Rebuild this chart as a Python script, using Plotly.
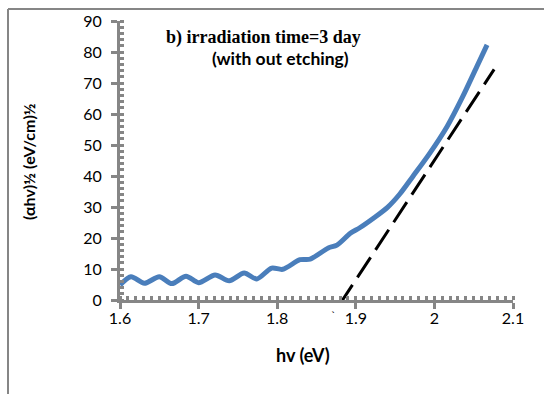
import plotly.graph_objects as go

# Measured curve: photon energy (eV) vs (alpha h nu)^1/2
hv = [1.600, 1.614, 1.631, 1.650, 1.666, 1.684, 1.700, 1.721, 1.739, 1.758,
      1.774, 1.793, 1.807, 1.829, 1.842, 1.865, 1.876, 1.893, 1.905, 1.922,
      1.940, 1.956, 1.973, 1.994, 2.016, 2.036, 2.054, 2.067]
ahv = [4.8, 7.5, 5.4, 7.5, 5.3, 7.7, 5.6, 8.1, 6.2, 8.7,
       6.8, 10.3, 9.9, 13.0, 13.2, 16.8, 17.7, 21.5, 23.3, 26.3,
       29.8, 34.2, 40.0, 47.3, 55.9, 65.6, 75.3, 82.3]

# Extrapolated linear fit (dashed)
fit_x = [1.879, 2.076]
fit_y = [-1.6, 74.4]

x_ticks = [1.6, 1.7, 1.8, 1.9, 2.0, 2.1]
x_ticklabels = ["1.6", "1.7", "1.8", "1.9", "2", "2.1"]
y_ticks = [0, 10, 20, 30, 40, 50, 60, 70, 80, 90]

title_line1 = "b) irradiation time=3 day"
title_line2 = "(with out etching)"
x_title = "hv (eV)"
y_title = "(αhv)½ (eV/cm)½"

AX = "#868686"
L, R, T, B = 120, 31, 21, 94
W, H = 544, 394
pw, ph = W - L - R, H - T - B


def px(xp):
    return (xp - L) / pw


def py(yp):
    return (H - B - yp) / ph


fig = go.Figure()
fig.add_trace(go.Scatter(x=hv, y=ahv, mode="lines",
                         line=dict(color="#4A7EBB", width=5, shape="spline", smoothing=0.8),
                         showlegend=False, hoverinfo="skip"))
fig.add_trace(go.Scatter(x=fit_x, y=fit_y, mode="lines",
                         line=dict(color="black", width=3, dash="24px,9px"),
                         showlegend=False, hoverinfo="skip"))

axis_common = dict(showline=True, linecolor=AX, linewidth=3, showgrid=False,
                   zeroline=False, ticks="outside", ticklen=6, tickwidth=3,
                   tickcolor=AX, tickfont=dict(family="Lato", size=16, color="black"))

fig.update_xaxes(range=[1.6, 2.1], tickvals=x_ticks, ticktext=x_ticklabels,
                 ticklabelstandoff=-4,
                 minor=dict(ticks="inside", dtick=0.01, ticklen=4, tickwidth=3, tickcolor=AX),
                 **axis_common)
fig.update_yaxes(range=[0, 90], tickvals=y_ticks, ticklabelstandoff=6,
                 minor=dict(ticks="inside", dtick=2, ticklen=4, tickwidth=3, tickcolor=AX),
                 **axis_common)

annotations = [
    dict(text="<b>" + title_line1 + "</b>", x=px(263), y=py(37), xref="paper", yref="paper",
         showarrow=False, font=dict(family="Liberation Serif", size=18, color="black"),
         xanchor="center", yanchor="middle"),
    dict(text="<b>" + title_line2 + "</b>", x=px(280), y=py(58), xref="paper", yref="paper",
         showarrow=False, font=dict(family="Lato", size=17.5, color="black"),
         xanchor="center", yanchor="middle"),
    dict(text="<b>" + x_title + "</b>", x=px(303), y=py(355), xref="paper", yref="paper",
         showarrow=False, font=dict(family="Lato", size=18, color="black"),
         xanchor="center", yanchor="middle"),
    dict(text="<b>" + y_title + "</b>", x=px(28), y=py(162), xref="paper", yref="paper",
         showarrow=False, textangle=-90, font=dict(family="Lato", size=16, color="black"),
         xanchor="center", yanchor="middle"),
    dict(text="`", x=1.871, y=py(315), xref="x", yref="paper",
         showarrow=False, font=dict(family="Lato", size=12, color="black"),
         xanchor="center", yanchor="middle"),
]

shapes = [
    dict(type="line", xref="paper", yref="paper", x0=px(8), x1=px(8), y0=py(9), y1=py(400),
         line=dict(color=AX, width=2)),
    dict(type="line", xref="paper", yref="paper", x0=px(8), x1=px(550), y0=py(9), y1=py(9),
         line=dict(color=AX, width=2)),
]

fig.update_layout(width=W, height=H, margin=dict(l=L, r=R, t=T, b=B),
                  paper_bgcolor="white", plot_bgcolor="white",
                  annotations=annotations, shapes=shapes)

fig.write_html("out.html")
